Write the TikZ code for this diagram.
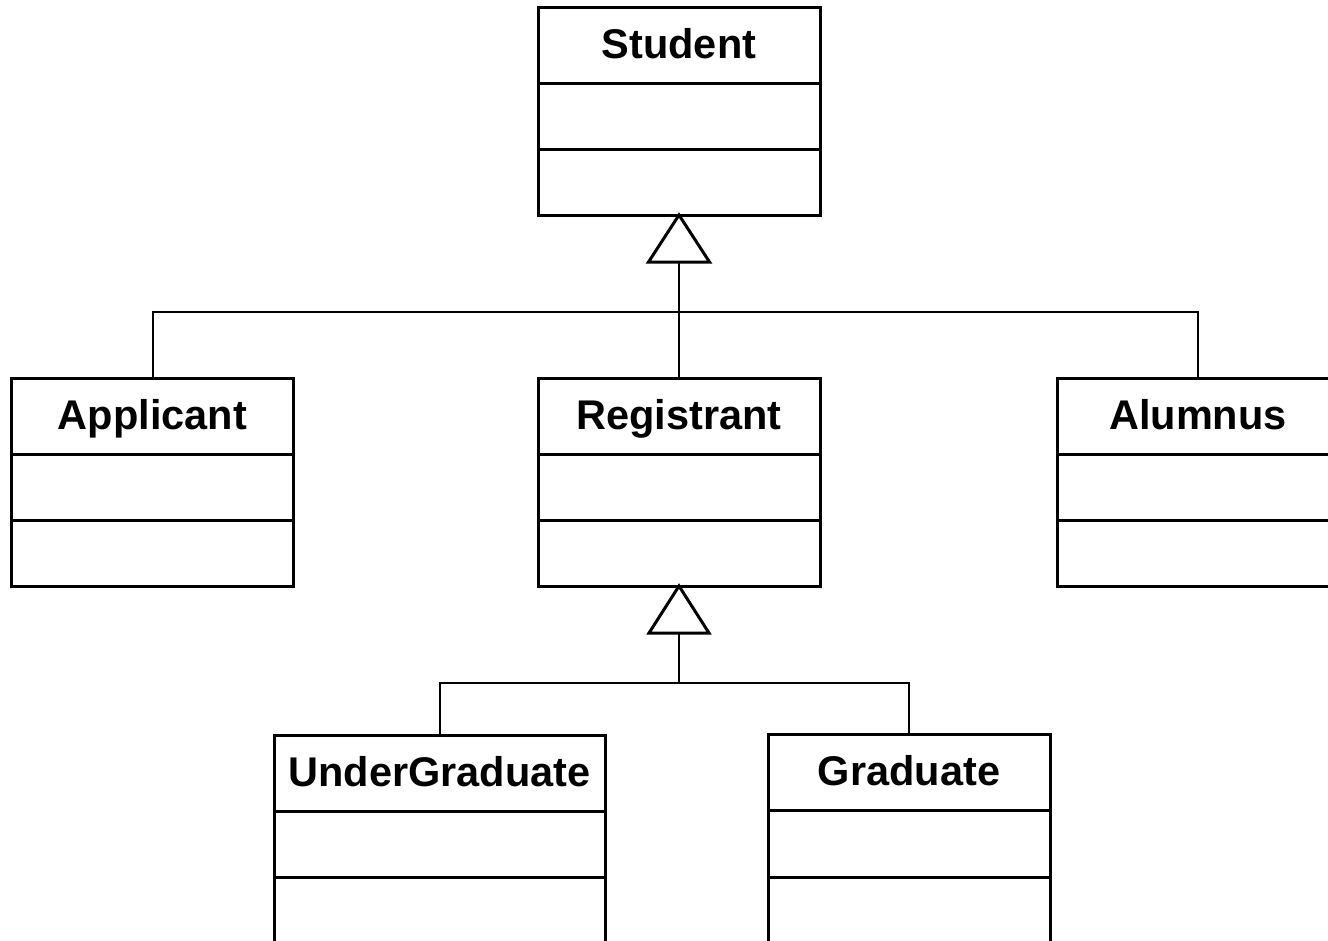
\documentclass[tikz,border=0pt]{standalone}
\usepackage{fontspec}
\setmainfont{Liberation Sans}
\usetikzlibrary{calc}
\tikzset{
  cls/.style={draw, rectangle, line width=3pt, minimum width=282pt, minimum height=208pt, inner sep=0pt, outer sep=0pt},
  ttl/.style={font=\bfseries\fontsize{41.5}{48}\selectfont, anchor=base, inner sep=0pt},
  sepline/.style={line width=3pt},
  conn/.style={line width=2pt},
  gen/.style={line width=3pt, fill=white, line join=miter},
}
\newcommand\umlclass[5]{%
  \node[cls, minimum width=#4pt] (#1) at (#2,#3+104) {};
  \node[ttl] (#1-t) at ($(#1.north)+(0,51)$) {#5};
  \draw[sepline] ($(#1.north west)+(0,76)$) -- ($(#1.north east)+(0,76)$);
  \draw[sepline] ($(#1.north west)+(0,142.5)$) -- ($(#1.north east)+(0,142.5)$);
}
\begin{document}
\begin{tikzpicture}[x=1pt,y=-1pt]
  \fill[white] (0,0) rectangle (1328,940);
  \useasboundingbox (0,0) rectangle (1328,940);
  \clip (0,0) rectangle (1328,940);
  \umlclass{stu}{679}{7}{282}{Student}
  \umlclass{app}{152.5}{378}{282}{Applicant}
  \umlclass{reg}{679}{378}{282}{Registrant}
  \umlclass{alu}{1198}{378}{282}{Alumnus}
  \umlclass{ug}{439.5}{735}{331}{UnderGraduate}
  \umlclass{gr}{909}{734.5}{282}{Graduate}
  % generalization Student
  \coordinate (stu-g) at ($(stu.south)+(0,47)$);
  \coordinate (j1) at (679,312);
  \draw[conn] (app.north) |- (j1) -| (alu.north);
  \draw[conn] (stu-g) -- (reg.north);
  \draw[gen] (stu.south) -- ++(-30.5,47) -- ++(61,0) -- cycle;
  % generalization Registrant
  \coordinate (reg-g) at ($(reg.south)+(0,47)$);
  \coordinate (j2) at (679,683);
  \draw[conn] (ug.north) |- (j2) -| (gr.north);
  \draw[conn] (reg-g) -- (j2);
  \draw[gen] (reg.south) -- ++(-30,47) -- ++(60,0) -- cycle;
\end{tikzpicture}
\end{document}
